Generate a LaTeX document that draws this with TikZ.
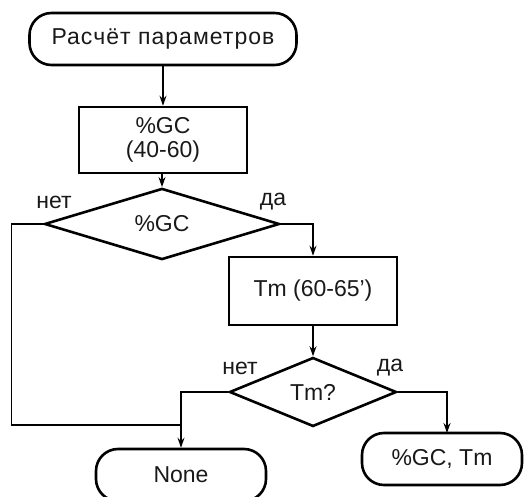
\documentclass[tikz,border=0pt]{standalone}
\usepackage{fontspec}
\setmainfont{Liberation Sans}
\usetikzlibrary{shapes.geometric,arrows.meta}
\begin{document}
\begin{tikzpicture}[x=1pt,y=1pt,
  every node/.style={font=\fontsize{23}{27}\selectfont, text=black!90},
  term/.style={draw, line width=2.6pt, rounded corners=22pt, minimum height=52pt, inner sep=0pt, align=center},
  proc/.style={draw, line width=2.6pt, inner sep=0pt, align=center},
  decision/.style={draw, diamond, line width=2.6pt, inner sep=0pt, align=center},
  conn/.style={line width=1.3pt, -{Stealth[length=10pt,width=7pt]}},
  line/.style={line width=1.3pt},
  lbl/.style={inner sep=0pt}]
\useasboundingbox (0,0) rectangle (528,-497);
\begin{scope}
\clip (0,0) rectangle (528,-497);
\node[term, minimum width=267pt] (start) at (163,-39) {\addfontfeatures{LetterSpace=4.5}Расчёт параметров};
\node[proc, minimum width=168pt, minimum height=66pt] (box1) at (163,-140) {\%GC\\[-3pt](40-60)};
\node[decision, minimum width=235pt, minimum height=66pt] (d1) at (162,-224) {\%GC};
\node[proc, minimum width=168pt, minimum height=68pt] (box2) at (313,-291) {Tm (60-65')};
\node[decision, minimum width=167pt, minimum height=69pt] (d2) at (313,-392) {Tm?};
\node[term, minimum width=170pt] (none) at (181,-475) {None};
\node[term, minimum width=160pt] (res) at (442,-459) {\%GC, Tm};

\node[lbl] (n1) at (54,-202) {нет};
\node[lbl] (y1) at (273,-202) {да};
\node[lbl] (n2) at (240,-368) {нет};
\node[lbl] (y2) at (390,-368) {да};

\coordinate (j) at (181,-425);
\coordinate (rtop) at (447,-433);

\draw[conn] (start.south) -- (box1.north -| start.south);
\draw[conn] (box1.south -| d1.north) -- (d1.north);
\draw[conn] (d1.east) -| (box2.north);
\draw[conn] (box2.south) -- (d2.north);
\draw[conn] (d2.west) -| (none.north);
\draw[conn] (d2.east) -| (rtop);
\draw[line] (d1.west) -- ++(-32,0) |- (j);
\end{scope}
\end{tikzpicture}
\end{document}
